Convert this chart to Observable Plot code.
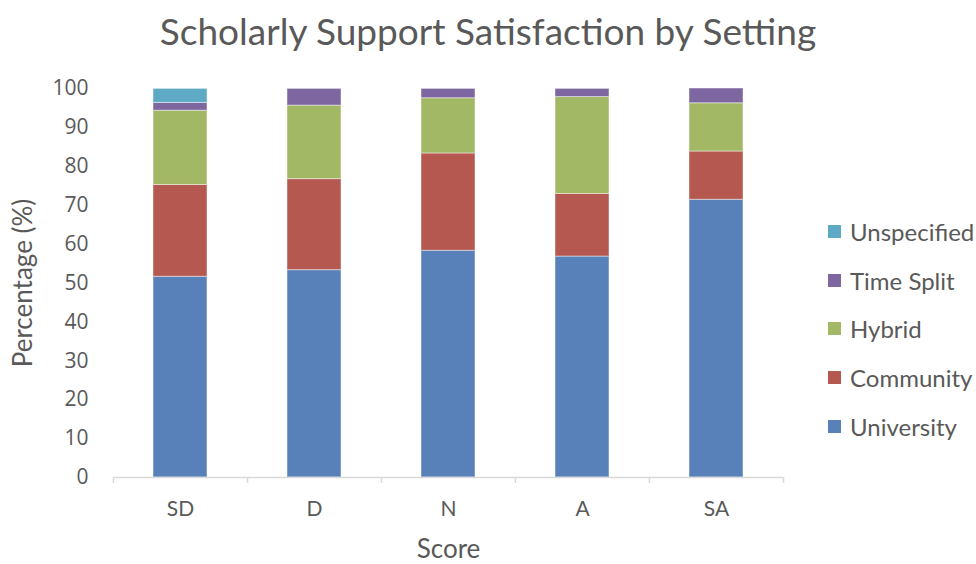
<!DOCTYPE html>
<html>
<head>
<meta charset="utf-8">
<script src="https://cdn.jsdelivr.net/npm/d3@7"></script>
<script src="https://cdn.jsdelivr.net/npm/@observablehq/plot@0.6"></script>
<style>
  body { margin: 0; background: white; }
  #wrap { position: relative; width: 976px; height: 564px; font-family: Lato, sans-serif; color: #595959; background: white; overflow: hidden; }
  #title { position: absolute; left: 0; width: 976px; top: 9px; text-align: center; font-size: 37px; line-height: 44px; }
  #chart { position: absolute; left: 0; top: 60px; }
  #legend { position: absolute; left: 828px; top: 207px; font-size: 24px; }
  .item { height: 48.8px; display: flex; align-items: center; white-space: nowrap; }
  .item .sw { width: 13px; height: 13px; margin-right: 9px; }
</style>
</head>
<body>
<div id="wrap">
  <div id="title">Scholarly Support Satisfaction by Setting</div>
  <div id="chart"></div>
  <div id="legend"></div>
</div>
<script>
const categories = ["SD", "D", "N", "A", "SA"];
const settings = ["University", "Community", "Hybrid", "Time Split", "Unspecified"];
const colors = ["#5981b9", "#b55850", "#a3b864", "#7e67a0", "#5eaac5"];
const university = [51.6, 53.3, 58.3, 56.8, 71.4];
const community = [23.6, 23.4, 25.0, 16.1, 12.4];
const hybrid = [19.1, 18.9, 14.2, 24.9, 12.4];
const timeSplit = [2.0, 4.3, 2.4, 2.1, 3.8];
const unspecified = [3.6, 0, 0, 0, 0];
const yTicks = [0, 10, 20, 30, 40, 50, 60, 70, 80, 90, 100];

const seriesValues = [university, community, hybrid, timeSplit, unspecified];
const rows = [];
settings.forEach((s, k) => categories.forEach((c, i) => rows.push({category: c, setting: s, value: seriesValues[k][i]})));

const W = 976, H = 504, mL = 113, mR = 193, mT = 28, mB = 87;
const pIn = 0.6, pOut = 0.3;
const step = (W - mL - mR) / (categories.length - pIn + 2 * pOut);
const gridGray = "#d9d9d9";

const chart = Plot.plot({
  width: W, height: H,
  marginTop: mT, marginBottom: mB, marginLeft: mL, marginRight: mR,
  style: {fontFamily: "Lato, sans-serif", fontSize: "21px", color: "#595959", background: "white"},
  x: {domain: categories, paddingInner: pIn, paddingOuter: pOut, label: null},
  y: {domain: [0, 100], label: null},
  color: {domain: settings, range: colors},
  marks: [
    Plot.barY(rows, {x: "category", y: "value", fill: "setting", stroke: "white", strokeOpacity: 0.45, strokeWidth: 1}),
    Plot.ruleY([0], {stroke: gridGray, strokeWidth: 1.5}),
    Plot.ruleX(categories, {x: d => d, y1: 0, y2: 0, insetBottom: -6, dx: -step / 2, stroke: gridGray, strokeWidth: 1.5}),
    Plot.ruleX([categories[categories.length - 1]], {x: d => d, y1: 0, y2: 0, insetBottom: -6, dx: step / 2, stroke: gridGray, strokeWidth: 1.5}),
    Plot.axisY({ticks: yTicks, tickSize: 0, tickPadding: 25, label: "Percentage (%)", labelAnchor: "center", labelOffset: 100, labelArrow: "none"}),
    Plot.axisX({tickSize: 0, tickPadding: 24, label: "Score", labelAnchor: "center", labelOffset: 80, labelArrow: "none"})
  ]
});
// text sizes
d3.select(chart).selectAll('[aria-label="y-axis tick label"]').attr("font-family", "'Open Sans', sans-serif").attr("font-size", 21);
d3.select(chart).selectAll('[aria-label="x-axis tick label"]').attr("font-size", 21);
d3.select(chart).selectAll('[aria-label$="-axis label"]').attr("font-size", 26).selectAll("text").attr("font-size", 26);
document.getElementById("chart").appendChild(chart);

const legend = document.getElementById("legend");
[...settings].reverse().forEach(s => {
  const item = document.createElement("div");
  item.className = "item";
  const sw = document.createElement("div");
  sw.className = "sw";
  sw.style.background = colors[settings.indexOf(s)];
  const tx = document.createElement("span");
  tx.textContent = s;
  item.appendChild(sw); item.appendChild(tx);
  legend.appendChild(item);
});
</script>
</body>
</html>
